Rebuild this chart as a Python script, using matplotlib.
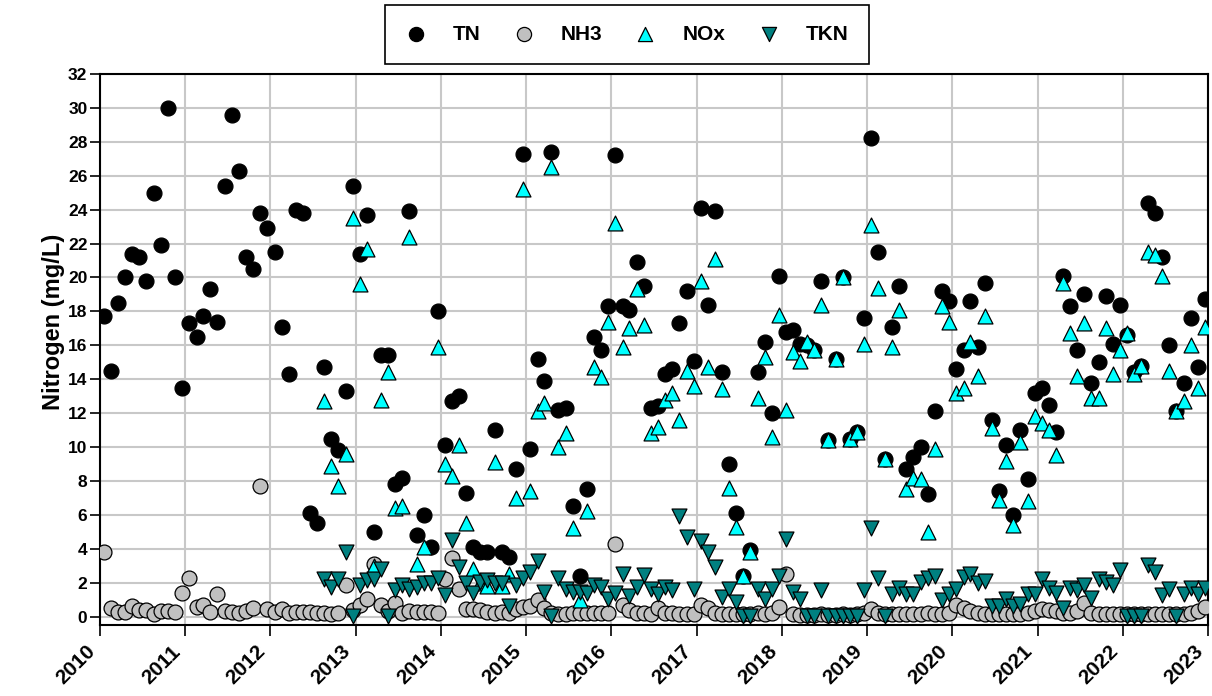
import numpy as np
import pandas as pd
import matplotlib
matplotlib.use("Agg")
import matplotlib.pyplot as plt
import matplotlib.dates as mdates
from matplotlib.transforms import ScaledTranslation

plt.rcParams["font.family"] = ["Liberation Sans", "DejaVu Sans"]
plt.rcParams["font.weight"] = "bold"

nan = np.nan

# monthly grab samples, Jan 2010 - Dec 2022 (mg/L)
sample_months = pd.date_range("2010-01-01", "2022-12-01", freq="MS")
sample_dates = sample_months + pd.Timedelta(days=18)

tn = [
    # 2010
    17.7, 14.5, 18.5, 20.0, 21.4, 21.2, 19.8, 25.0, 21.9, 30.0, 20.0, 13.5,
    # 2011
    17.3, 16.5, 17.7, 19.3, 17.4, 25.4, 29.6, 26.3, 21.2, 20.5, 23.8, 22.9,
    # 2012
    21.5, 17.1, 14.3, 24.0, 23.8, 6.1, 5.5, 14.7, 10.5, 9.8, 13.3, 25.4,
    # 2013
    21.4, 23.7, 5.0, 15.4, 15.4, 7.8, 8.2, 23.9, 4.8, 6.0, 4.1, 18.0,
    # 2014
    10.1, 12.7, 13.0, 7.3, 4.1, 3.8, 3.8, 11.0, 3.8, 3.5, 8.7, 27.3,
    # 2015
    9.9, 15.2, 13.9, 27.4, 12.2, 12.3, 6.5, 2.4, 7.5, 16.5, 15.7, 18.3,
    # 2016
    27.2, 18.3, 18.1, 20.9, 19.5, 12.3, 12.4, 14.3, 14.6, 17.3, 19.2, 15.1,
    # 2017
    24.1, 18.4, 23.9, 14.4, 9.0, 6.1, 2.4, 3.9, 14.4, 16.2, 12.0, 20.1,
    # 2018
    16.8, 16.9, 16.1, 16.0, 15.7, 19.8, 10.4, 15.2, 20.0, 10.5, 10.9, 17.6,
    # 2019
    28.2, 21.5, 9.3, 17.1, 19.5, 8.7, 9.4, 10.0, 7.2, 12.1, 19.2, 18.6,
    # 2020
    14.6, 15.7, 18.6, 15.9, 19.7, 11.6, 7.4, 10.1, 6.0, 11.0, 8.1, 13.2,
    # 2021
    13.5, 12.5, 10.9, 20.1, 18.3, 15.7, 19.0, 13.8, 15.0, 18.9, 16.1, 18.4,
    # 2022
    16.6, 14.4, 14.8, 24.4, 23.8, 21.2, 16.0, 12.1, 13.8, 17.6, 14.7, 18.7,
]

nh3 = [
    3.8, 0.51, 0.24, 0.27, 0.63, 0.37, 0.37, 0.12, 0.31, 0.31, 0.24, 1.4,
    2.27, 0.57, 0.67, 0.24, 1.35, 0.31, 0.24, 0.18, 0.31, 0.51, 7.7, 0.43,
    0.27, 0.43, 0.18, 0.24, 0.24, 0.24, 0.18, 0.18, 0.12, 0.18, 1.88, 0.37,
    0.67, 1.06, 3.1, 0.67, 0.31, 0.82, 0.18, 0.31, 0.24, 0.24, 0.27, 0.18,
    2.24, 3.45, 1.6, 0.45, 0.43, 0.37, 0.24, 0.18, 0.24, 0.18, 0.43, 0.57,
    0.63, 0.96, 0.51, 0.2, 0.15, 0.15, 0.2, 0.2, 0.2, 0.2, 0.2, 0.2,
    4.3, 0.67, 0.37, 0.2, 0.2, 0.15, 0.51, 0.2, 0.2, 0.15, 0.15, 0.15,
    0.7, 0.51, 0.2, 0.12, 0.12, 0.12, 0.12, 0.12, 0.2, 0.12, 0.2, 0.57,
    2.5, 0.15, 0.1, 0.1, 0.1, 0.15, 0.1, 0.1, 0.15, 0.1, 0.15, 0.2,
    0.47, 0.2, 0.15, 0.15, 0.15, 0.15, 0.15, 0.15, 0.2, 0.15, 0.15, 0.2,
    0.67, 0.5, 0.3, 0.2, 0.15, 0.15, 0.15, 0.15, 0.15, 0.15, 0.2, 0.3,
    0.47, 0.4, 0.3, 0.2, 0.2, 0.3, 0.8, 0.2, 0.15, 0.15, 0.15, 0.15,
    0.15, 0.15, 0.15, 0.15, 0.15, 0.15, 0.15, 0.15, 0.15, 0.2, 0.3, 0.55,
]

# NOx and TKN were added to the monitoring from Aug 2012
nox = [
    nan, nan, nan, nan, nan, nan, nan, nan, nan, nan, nan, nan,
    nan, nan, nan, nan, nan, nan, nan, nan, nan, nan, nan, nan,
    nan, nan, nan, nan, nan, nan, nan, 12.7, 8.9, 7.7, 9.6, 23.5,
    19.6, 21.7, 3.0, 12.8, 14.4, 6.4, 6.5, 22.4, 3.1, 4.1, nan, 15.9,
    9.0, 8.3, 10.1, 5.5, 2.8, 2.0, 1.8, 9.1, 1.8, 2.5, 7.0, 25.2,
    7.4, 12.1, 12.6, 26.5, 10.0, 10.8, 5.2, 1.0, 6.2, 14.7, 14.1, 17.4,
    23.2, 15.9, 17.0, 19.3, 17.2, 10.8, 11.2, 12.8, 13.2, 11.6, 14.5, 13.6,
    19.8, 14.7, 21.1, 13.4, 7.6, 5.3, 2.4, 3.8, 12.9, 15.3, 10.6, 17.8,
    12.2, 15.6, 15.1, 16.2, 15.7, 18.4, 10.4, 15.2, 20.0, 10.5, 10.9, 16.1,
    23.1, 19.4, 9.3, 15.9, 18.1, 7.5, 8.2, 8.1, 5.0, 9.9, 18.3, 17.4,
    13.2, 13.5, 16.2, 14.2, 17.7, 11.1, 6.9, 9.2, 5.4, 10.3, 6.8, 11.8,
    11.4, 11.0, 9.5, 19.7, 16.7, 14.2, 17.3, 12.9, 12.9, 17.0, 14.3, 15.7,
    16.7, 14.3, 14.8, 21.5, 21.3, 20.1, 14.5, 12.1, 12.7, 16.0, 13.5, 17.1,
]

tkn = [
    nan, nan, nan, nan, nan, nan, nan, nan, nan, nan, nan, nan,
    nan, nan, nan, nan, nan, nan, nan, nan, nan, nan, nan, nan,
    nan, nan, nan, nan, nan, nan, nan, 2.2, 1.75, 2.2, 3.8, 0.05,
    1.85, 2.15, 2.2, 2.8, 0.05, 1.55, 1.85, 1.6, 1.75, 2.0, 1.95, 2.25,
    1.25, 4.5, 2.9, 1.95, 1.4, 2.05, 2.15, 1.95, 1.95, 0.65, 1.85, 2.25,
    2.6, 3.25, 1.45, 0.05, 2.3, 1.6, 1.45, 1.45, 1.4, 1.85, 1.75, 1.05,
    1.4, 2.5, 1.2, 1.75, 2.45, 1.65, 1.35, 1.75, 1.55, 5.95, 4.7, 1.65,
    4.45, 3.8, 2.9, 1.15, 1.6, 0.85, 0.05, 0.05, 1.6, 1.05, 1.65, 2.4,
    4.6, 1.45, 1.05, 0.05, 0.05, 1.55, 0.05, 0.05, 0.05, 0.05, 0.05, 1.55,
    5.2, 2.25, 0.05, 1.35, 1.7, 1.3, 1.35, 2.05, 2.25, 2.4, 1.0, 1.35,
    1.6, 2.35, 2.5, 1.95, 2.1, 0.65, 0.65, 1.05, 0.65, 0.75, 1.35, 1.35,
    2.2, 1.7, 1.4, 0.5, 1.7, 1.55, 1.85, 1.1, 2.2, 2.05, 1.85, 2.75,
    0.05, 0.05, 0.05, 3.05, 2.6, 1.25, 1.6, 0.05, 1.3, 1.7, 1.35, 1.7,
]

years = list(range(2010, 2024))

fig = plt.figure(figsize=(12.12, 6.96), dpi=100)
ax = fig.add_axes([100 / 1212, 1 - 625 / 696, 1108 / 1212, 551 / 696])

mk = dict(s=115, edgecolors="black", linewidths=0.9)
ax.scatter(sample_dates, tn, marker="o", color="black", label="TN", zorder=3, **mk)
ax.scatter(sample_dates, nh3, marker="o", color="#c0c0c0", label="NH3", zorder=4, **mk)
ax.scatter(sample_dates, nox, marker="^", color="#00ffff", label="NOx", zorder=5, **mk)
ax.scatter(sample_dates, tkn, marker="v", color="#008080", label="TKN", zorder=6, **mk)

ax.set_xlim(pd.Timestamp("2010-01-01"), pd.Timestamp("2023-01-01"))
ax.set_ylim(-0.5, 32)
ax.set_yticks(np.arange(0, 33, 2))
ax.set_xticks([pd.Timestamp(f"{y}-01-01") for y in years])
ax.xaxis.set_major_formatter(mdates.DateFormatter("%Y"))

ax.grid(True, color="#c8c8c8", linewidth=1.5, zorder=0)
ax.set_axisbelow(True)
for sp in ax.spines.values():
    sp.set_linewidth(1.5)
    sp.set_color("black")

ax.tick_params(axis="x", direction="out", length=8, width=1.2, pad=9, labelsize=15)
ax.tick_params(axis="y", direction="out", length=7, width=1.2, pad=2, labelsize=12.5)
# nudge rotated year labels so their right end sits under the tick
shift = ScaledTranslation(-8 / 100, 0, fig.dpi_scale_trans)
for lbl in ax.get_xticklabels():
    lbl.set_rotation(45)
    lbl.set_ha("right")
    lbl.set_va("center")
    lbl.set_rotation_mode("anchor")
    lbl.set_fontweight("bold")
    lbl.set_transform(lbl.get_transform() + shift)
for lbl in ax.get_yticklabels():
    lbl.set_fontweight("bold")

ax.set_ylabel("Nitrogen (mg/L)", fontsize=17, fontweight="bold")
ax.yaxis.set_label_coords(-0.032, 0.55)

leg = ax.legend(loc="upper center", bbox_to_anchor=(627 / 1212, 1 - 5 / 696),
                bbox_transform=fig.transFigure, ncol=4, frameon=True, fancybox=False,
                edgecolor="black", framealpha=1, borderpad=0.95, borderaxespad=0,
                handlelength=1.0, handletextpad=1.3, columnspacing=1.55,
                prop={"size": 15, "weight": "bold"}, markerscale=0.95)
leg.get_frame().set_linewidth(1.2)

fig.savefig("out.png", dpi=100)
